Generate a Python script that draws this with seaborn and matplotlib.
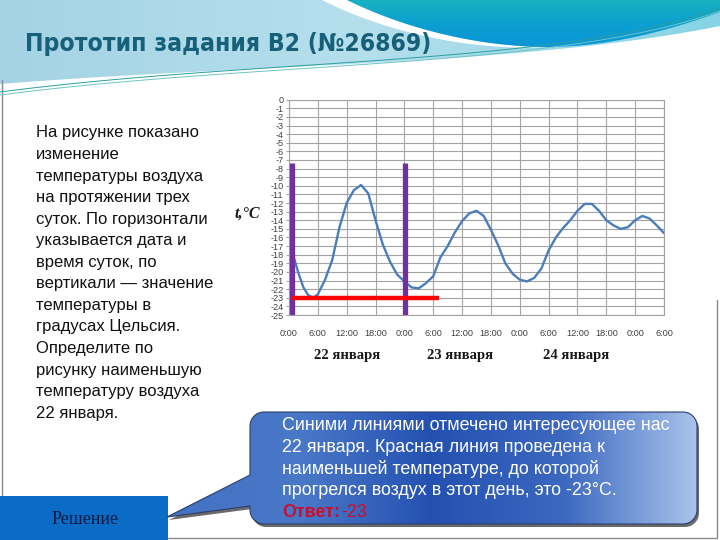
import numpy as np
import pandas as pd
import seaborn as sns
import matplotlib.pyplot as plt
from matplotlib import font_manager
from matplotlib.patches import Polygon, Rectangle
from matplotlib.colors import LinearSegmentedColormap
import matplotlib.transforms as mtransforms

# Данные графика: время (часы от 0:00 22 января) и температура
hours = [1, 2, 3, 4, 5, 6, 7.5, 9, 10.5, 12, 13.5, 15, 16.5, 18, 19.5, 21, 22.5,
         24, 25.5, 27, 28.5, 30, 31.5, 33, 34.5, 36, 37.5, 39, 40.5, 42, 43.5,
         45, 46.5, 48, 49.5, 51, 52.5, 54, 55.5, 57, 58.5, 60, 61.5, 63, 64.5,
         66, 67.5, 69, 70.5, 72, 73.5, 75, 76.5, 78]
temps = [-18.3, -20.2, -21.8, -22.7, -23.0, -22.6, -20.9, -18.6, -14.8, -12.0,
         -10.5, -9.9, -10.9, -14.0, -16.8, -18.8, -20.3, -21.1, -21.8, -21.9,
         -21.3, -20.5, -18.3, -17.0, -15.4, -14.1, -13.2, -12.9, -13.5, -15.1,
         -16.9, -19.0, -20.2, -20.9, -21.1, -20.7, -19.6, -17.5, -16.0, -14.9,
         -14.0, -12.9, -12.1, -12.1, -12.9, -14.0, -14.6, -15.0, -14.8, -14.0,
         -13.5, -13.8, -14.6, -15.5]
x_ticks = list(range(0, 79, 6))
x_labels = ["0:00", "6:00", "12:00", "18:00"] * 3 + ["0:00", "6:00"]
y_ticks = list(range(0, -26, -1))
day_labels = ["22 января", "23 января", "24 января"]
day_label_hours = [12, 35.5, 59.8]

# отметки решения: границы суток 22 января и минимум
day_bounds = [0.6, 24.1]
mark_top = -7.3
min_temp = -23
min_line_hours = [0.5, 31.2]

question = ["На рисунке показано", "изменение", "температуры воздуха",
            "на протяжении трех", "суток. По горизонтали", "указывается дата и",
            "время суток, по", "вертикали — значение", "температуры в",
            "градусах Цельсия.", "Определите по", "рисунку наименьшую",
            "температуру воздуха", "22 января."]
answer = ["Синими линиями отмечено интересующее нас",
          "22 января. Красная линия проведена к",
          "наименьшей температуре, до которой",
          "прогрелся воздух в этот день, это -23°C."]

sns.set_theme(style="white")
plt.rcParams['font.family'] = ['Liberation Sans', 'DejaVu Sans']

installed = {f.name for f in font_manager.fontManager.ttflist}
if 'Liberation Sans Narrow' in installed:
    title_font = dict(family=['Liberation Sans Narrow', 'DejaVu Sans'])
else:
    title_font = dict(family=['DejaVu Sans'], fontstretch='condensed')

fig = plt.figure(figsize=(7.2, 5.4), dpi=100)
bg = fig.add_axes([0, 0, 1, 1])
bg.set_xlim(0, 720)
bg.set_ylim(540, 0)
bg.axis('off')


def bez(p0, p1, p2, p3, n=50):
    t = np.linspace(0, 1, n)[:, None]
    p0, p1, p2, p3 = map(np.array, (p0, p1, p2, p3))
    return (1 - t) ** 3 * p0 + 3 * (1 - t) ** 2 * t * p1 + 3 * (1 - t) * t ** 2 * p2 + t ** 3 * p3


def grad_fill(verts, colors, extent, vertical=False, z=1, alpha=1.0):
    poly = Polygon(verts, closed=True, facecolor='none', edgecolor='none')
    bg.add_patch(poly)
    cmap = LinearSegmentedColormap.from_list('g', colors)
    arr = np.linspace(0, 1, 256)
    arr = arr.reshape(-1, 1) if vertical else arr.reshape(1, -1)
    x0, x1, y0, y1 = extent
    im = bg.imshow(arr, cmap=cmap, extent=[x0, x1, y1, y0], origin='upper',
                   aspect='auto', zorder=z, alpha=alpha)
    im.set_clip_path(poly)


# шапка слайда
bottom = bez((0, 84), (250, 64), (520, 66), (720, 26))
light = np.vstack([[(0, 0), (720, 0)], bottom[::-1]])
grad_fill(light, ['#a4d3e5', '#b6dfec', '#86d3e6'], (0, 720, 0, 90), z=1)

dark_edge = np.vstack([bez((347, 0), (400, 26), (470, 46), (545, 47)),
                       bez((545, 47), (610, 47), (670, 30), (720, 12))])
dark = np.vstack([dark_edge, [(720, 0)]])
grad_fill(dark, ['#17b2c0', '#0c9fd0', '#0a93d8'], (340, 720, 0, 50), vertical=True, z=3)

swoosh = np.vstack([[(322, 0)], bez((347, 0), (400, 26), (470, 46), (545, 47)),
                    bez((545, 47), (470, 51), (385, 32), (322, 0))])
bg.add_patch(Polygon(swoosh, closed=True, facecolor='white', edgecolor='none', zorder=2))

for off, col in [(0, '#2a9fa0'), (3, '#6cc4c8')]:
    ln = bez((0, 92 + off), (260, 58 + off), (560, 66 + off), (720, 8 + off))
    bg.plot(ln[:, 0], ln[:, 1], color=col, lw=0.7, zorder=4)

title = bg.text(25, 44, "Прототип задания B2 (№26869)", fontsize=18, fontweight='bold',
                color='#17607a', va='center', ha='left', zorder=5, **title_font)
fig.canvas.draw()
w = title.get_window_extent().width
title.set_fontsize(18 * 407 / w)

# рамка слайда
bg.plot([2, 2], [80, 496], color='#8a8a8a', lw=1, zorder=1)
bg.plot([168, 717, 717], [538, 538, 300], color='#8a8a8a', lw=1, zorder=0.5)

# текст задания
for i, line in enumerate(question):
    bg.text(36, 133 + i * 21.55, line, fontsize=12, color='#111111', va='center', ha='left')

# кнопка «Решение»
bg.add_patch(Rectangle((0, 496), 168, 44, facecolor='#0b6cc6', edgecolor='none', zorder=2))
bg.text(85, 519, "Решение", fontsize=13, color='#0d1b45', ha='center', va='center',
        family=['Liberation Serif', 'DejaVu Serif'], zorder=3)


# выноска с ответом
def arc(cx, cy, r, a0, a1, n=12):
    a = np.radians(np.linspace(a0, a1, n))
    return np.column_stack([cx + r * np.cos(a), cy + r * np.sin(a)])


L, R, T, B, r = 250, 697, 412, 524, 14
callout = np.vstack([
    [(L + r, T), (R - r, T)], arc(R - r, T + r, r, -90, 0),
    [(R, B - r)], arc(R - r, B - r, r, 0, 90),
    [(L + r, B)], arc(L + r, B - r, r, 90, 180),
    [(L, 506), (167, 517), (L, 475)],
    arc(L + r, T + r, r, 180, 270),
])
bg.add_patch(Polygon(callout + np.array([2, 3]), closed=True, facecolor='#2b2b2b',
                     edgecolor='none', alpha=0.7, zorder=2))
grad_fill(callout, ['#4372c4', '#4a78c8', '#2451b1', '#3c68c0', '#aac3ec'],
          (167, 697, 412, 524), z=3)
bg.add_patch(Polygon(callout, closed=True, facecolor='none', edgecolor='#2a3f6a',
                     lw=0.8, zorder=4))
for i, line in enumerate(answer):
    bg.text(282, 426 + i * 21.6, line, fontsize=12.9, color='white', va='center',
            ha='left', zorder=5)
bg.text(282, 512.5, "Ответ:", fontsize=12.9, color='#c8102e', fontweight='bold',
        va='center', ha='left', zorder=5)
bg.text(341, 512.5, "-23", fontsize=12.9, color='#c8102e', va='center', ha='left', zorder=5)

# график температуры
ax = fig.add_axes([289 / 720, 1 - 315 / 540, 375 / 720, 215.3 / 540])
ax.set_facecolor('white')
df = pd.DataFrame({"час": hours, "t": temps})
sns.lineplot(data=df, x="час", y="t", ax=ax, color='#4a7ebb', linewidth=1.7, zorder=3)

ax.vlines(day_bounds, -25, mark_top, colors='#7030a0', linewidth=3.8, zorder=4)
ax.hlines(min_temp, *min_line_hours, colors='#ff0000', linewidth=3.2, zorder=5)

ax.set_xlim(0, 78)
ax.set_ylim(-25, 0)
ax.set_xticks(x_ticks)
ax.set_xticklabels(x_labels)
ax.set_yticks(y_ticks)
ax.set_yticklabels([str(v) for v in y_ticks])
ax.grid(True, color='#a3a3a3', linewidth=0.8)
ax.tick_params(axis='x', length=0, pad=10, labelsize=6.6, labelcolor='#404040')
ax.tick_params(axis='y', left=True, length=2.5, width=0.8, color='#a3a3a3', pad=1.5,
               labelsize=6.6, labelcolor='#404040')
for sp in ax.spines.values():
    sp.set_color('#a3a3a3')
    sp.set_linewidth(0.8)
ax.set_xlabel("")
ax.set_ylabel("")

trans = mtransforms.blended_transform_factory(ax.transData, ax.transAxes)
for h, lab in zip(day_label_hours, day_labels):
    ax.text(h, -0.186, lab, transform=trans, ha='center', va='center', fontsize=10.5,
            fontweight='bold', family=['Liberation Serif', 'DejaVu Serif'], color='#1a1a1a')
ax.text(-0.11, 0.47, "t,°C", transform=ax.transAxes, ha='center', va='center',
        fontsize=11.5, fontweight='bold', fontstyle='italic',
        family=['Liberation Serif', 'DejaVu Serif'], color='#1a1a1a')

fig.savefig("out.png", dpi=100)
